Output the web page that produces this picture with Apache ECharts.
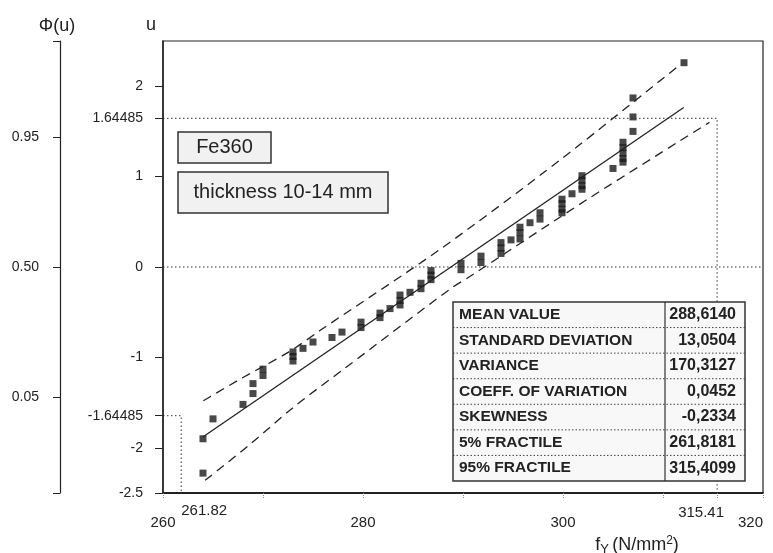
<!DOCTYPE html>
<html><head><meta charset="utf-8">
<script src="https://cdn.jsdelivr.net/npm/echarts@6/dist/echarts.min.js"></script>
<style>html,body{margin:0;padding:0;background:#fff}#c{width:773px;height:553px}</style>
</head><body><div id="c"></div>
<script>
// ---- data ----
const sampleFy = [264.0, 264.0, 265.0, 268.0, 269.0, 269.0, 270.0, 270.0, 273.0, 273.0, 273.0, 274.0, 275.0,
  276.9, 277.9, 279.8, 279.8, 281.7, 281.7, 282.7, 283.7, 283.7, 283.7, 284.7, 285.8, 285.8,
  286.8, 286.8, 286.8, 289.8, 289.8, 291.8, 291.8, 293.8, 293.8, 293.8, 294.8, 295.7, 295.7, 295.7,
  296.7, 297.7, 297.7, 299.9, 299.9, 299.9, 299.9, 300.9, 301.9, 301.9, 301.9, 301.9,
  305.0, 306.0, 306.0, 306.0, 306.0, 306.0, 307.0, 307.0, 307.0, 312.1];
const sampleU = [-2.28, -1.90, -1.68, -1.52, -1.40, -1.29, -1.20, -1.13, -1.04, -0.99, -0.94, -0.90, -0.83,
  -0.78, -0.72, -0.67, -0.61, -0.56, -0.51, -0.46, -0.42, -0.37, -0.31, -0.28, -0.24, -0.18,
  -0.14, -0.09, -0.04, -0.03, 0.04, 0.05, 0.12, 0.15, 0.21, 0.27, 0.30, 0.31, 0.38, 0.44,
  0.49, 0.53, 0.60, 0.60, 0.64, 0.70, 0.75, 0.81, 0.86, 0.90, 0.96, 1.01,
  1.09, 1.16, 1.20, 1.26, 1.32, 1.38, 1.50, 1.66, 1.87, 2.26];
const fitFy = [263.98, 312.07];
const fitU = [-1.88, 1.765];
const upperFy = [264.04, 267.72, 272.73, 275.73, 287.76, 299.78, 311.5];
const upperU = [-1.48, -1.24, -0.93, -0.70, 0.20, 1.19, 2.22];
const lowerFy = [264.21, 268.72, 273.06, 278.07, 288.76, 290.76, 302.46, 314.64];
const lowerU = [-2.36, -1.96, -1.55, -1.13, -0.24, -0.10, 0.75, 1.60];
const uTicks = [-2.5, -2, -1.64485, -1, 0, 1, 1.64485, 2];
const phiTicks = [0.05, 0.50, 0.95];
const fyMajorTicks = [260, 280, 300, 320];
const fyMinorTicks = [270, 290, 310];
const fractileFy = [261.82, 315.41];
const fractileU = [-1.64485, 1.64485];
const statLabels = ['MEAN VALUE', 'STANDARD DEVIATION', 'VARIANCE', 'COEFF. OF VARIATION', 'SKEWNESS', '5% FRACTILE', '95% FRACTILE'];
const statValues = ['288,6140', '13,0504', '170,3127', '0,0452', '-0,2334', '261,8181', '315,4099'];
const boxLabels = ['Fe360', 'thickness 10-14 mm'];

// ---- chart ----
const FONT = "'Liberation Sans', Arial, Helvetica, sans-serif";
const INK = '#222';
const PHI_MIN = -0.2823, PHI_MAX = 1.2823;
const zip = (a, b) => a.map((v, i) => [v, b[i]]);
const dotted = { color: '#333', width: 1, type: [1.5, 2.5] };

const chart = echarts.init(document.getElementById('c'));

const graphics = [];
const boxGeom = [
  { x: 178, y: 132, w: 93, h: 31 },
  { x: 178, y: 172, w: 210, h: 41 }
];
boxLabels.forEach((t, i) => {
  const g = boxGeom[i];
  graphics.push({ type: 'rect', z: 100, shape: { x: g.x, y: g.y, width: g.w, height: g.h },
    style: { fill: '#f1f1f1', stroke: '#333', lineWidth: 1.5 } });
  graphics.push({ type: 'text', z: 101, style: { text: t, x: g.x + g.w / 2, y: g.y + g.h / 2,
    textAlign: 'center', textVerticalAlign: 'middle', font: '20px ' + FONT, fill: INK } });
});
const tb = { x: 453, y: 302, w: 292, h: 179, div: 665 };
const rowH = tb.h / statLabels.length;
graphics.push({ type: 'rect', z: 100, shape: { x: tb.x, y: tb.y, width: tb.w, height: tb.h },
  style: { fill: '#f8f8f8', stroke: '#333', lineWidth: 1.5 } });
graphics.push({ type: 'line', z: 101, shape: { x1: tb.div, y1: tb.y, x2: tb.div, y2: tb.y + tb.h },
  style: { stroke: '#333', lineWidth: 1.2 } });
statLabels.forEach((lab, i) => {
  const cy = tb.y + rowH * (i + 0.5);
  if (i > 0) {
    const ly = tb.y + rowH * i;
    graphics.push({ type: 'line', z: 101, shape: { x1: tb.x, y1: ly, x2: tb.x + tb.w, y2: ly },
      style: { stroke: '#444', lineWidth: 1, lineDash: [1.5, 2] } });
  }
  graphics.push({ type: 'text', z: 102, style: { text: lab, x: tb.x + 6, y: cy,
    textAlign: 'left', textVerticalAlign: 'middle', font: 'bold 15.5px ' + FONT, fill: INK } });
  graphics.push({ type: 'text', z: 102, style: { text: statValues[i], x: tb.x + tb.w - 9, y: cy,
    textAlign: 'right', textVerticalAlign: 'middle', font: 'bold 16px ' + FONT, fill: INK } });
});

const baseX = { type: 'value', min: 260, max: 320, position: 'bottom', splitLine: { show: false } };

chart.setOption({
  backgroundColor: '#fff',
  animation: false,
  grid: { left: 163, right: 10, top: 41, bottom: 60, show: true, borderColor: '#222', borderWidth: 1.2,
    containLabel: false, outerBoundsMode: 'none' },
  xAxis: [
    Object.assign({}, baseX, {
      axisLine: { show: true, onZero: false, lineStyle: { color: INK, width: 2 } },
      axisTick: { show: true, customValues: fyMajorTicks.concat(fyMinorTicks, [fractileFy[1]]), length: 6,
        lineStyle: { color: '#888', type: 'dotted' } },
      axisLabel: { customValues: fyMajorTicks, margin: 22, fontSize: 15, color: INK, fontFamily: FONT,
        alignMaxLabel: 'right' },
      name: '{a|f}{b|Y} {a|(N/mm}{c|2}{a|)}',
      nameLocation: 'middle', nameGap: 36,
      nameTextStyle: { padding: [0, 0, 0, 348], fontFamily: FONT, color: INK,
        rich: { a: { fontSize: 18, fontFamily: FONT, color: INK },
                b: { fontSize: 13, fontFamily: FONT, color: INK, padding: [8, 0, 0, 0] },
                c: { fontSize: 12, fontFamily: FONT, color: INK, padding: [0, 0, 9, 0] } } }
    }),
    Object.assign({}, baseX, {
      axisLine: { show: false, onZero: false }, axisTick: { show: false },
      axisLabel: { customValues: [fractileFy[0]], margin: 10, align: 'left', fontSize: 15, color: INK, fontFamily: FONT }
    }),
    Object.assign({}, baseX, {
      axisLine: { show: false, onZero: false }, axisTick: { show: false },
      axisLabel: { customValues: [fractileFy[1]], margin: 12, align: 'center', padding: [0, 32, 0, 0],
        fontSize: 15, color: INK, fontFamily: FONT }
    })
  ],
  yAxis: [
    { type: 'value', min: -2.5, max: 2.5, position: 'left', splitLine: { show: false },
      axisLine: { show: true, onZero: false, lineStyle: { color: INK, width: 1.5 } },
      axisTick: { show: true, customValues: uTicks, length: 8, lineStyle: { color: INK } },
      axisLabel: { customValues: uTicks, margin: 20, fontSize: 14, color: INK, fontFamily: FONT },
      name: 'u', nameLocation: 'end', nameGap: 7,
      nameTextStyle: { fontSize: 18, fontFamily: FONT, color: INK, padding: [0, 24, 0, 0] } },
    { type: 'value', min: PHI_MIN, max: PHI_MAX, position: 'left', offset: 103, splitLine: { show: false },
      axisLine: { show: true, onZero: false, lineStyle: { color: INK, width: 1.2 } },
      axisTick: { show: true, customValues: [PHI_MIN].concat(phiTicks, [PHI_MAX]), length: 7, lineStyle: { color: INK } },
      axisLabel: { customValues: phiTicks, margin: 21, fontSize: 14, color: INK, fontFamily: FONT,
        formatter: v => Number(v).toFixed(2) },
      name: 'Φ(u)', nameLocation: 'end', nameGap: 6,
      nameTextStyle: { fontSize: 18, fontFamily: FONT, color: INK, padding: [0, 6, 0, 0] } }
  ],
  series: [
    { type: 'line', symbol: 'none', silent: true, lineStyle: dotted,
      data: [[260, 0], [320, 0]] },
    { type: 'line', symbol: 'none', silent: true, lineStyle: dotted,
      data: [[260, fractileU[1]], [fractileFy[1], fractileU[1]], [fractileFy[1], -2.5]] },
    { type: 'line', symbol: 'none', silent: true, lineStyle: dotted,
      data: [[260, fractileU[0]], [fractileFy[0], fractileU[0]], [fractileFy[0], -2.5]] },
    { type: 'line', symbol: 'none', smooth: 0.3, silent: true,
      lineStyle: { color: INK, width: 1.3, type: [9, 6] }, data: zip(upperFy, upperU) },
    { type: 'line', symbol: 'none', smooth: 0.3, silent: true,
      lineStyle: { color: INK, width: 1.3, type: [9, 6] }, data: zip(lowerFy, lowerU) },
    { type: 'line', symbol: 'none', silent: true,
      lineStyle: { color: INK, width: 1.3 }, data: zip(fitFy, fitU) },
    { type: 'scatter', symbol: 'rect', symbolSize: 7, itemStyle: { color: '#1a1a1a' },
      data: zip(sampleFy, sampleU) }
  ],
  graphic: graphics
});
</script></body></html>
